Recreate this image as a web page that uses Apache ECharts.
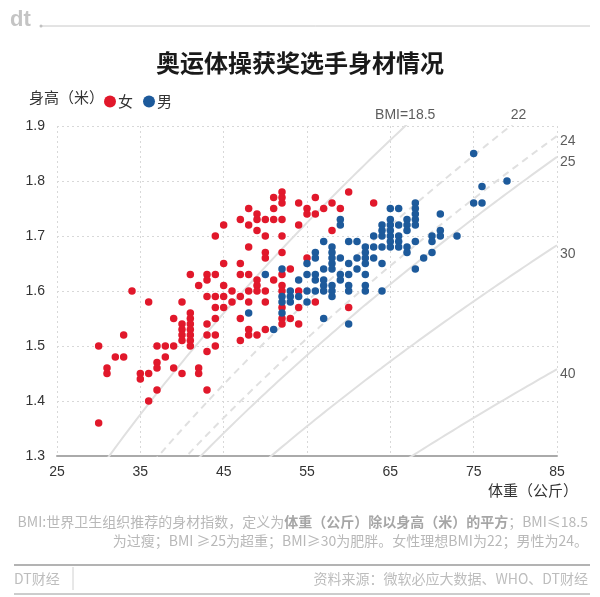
<!DOCTYPE html>
<html><head><meta charset="utf-8">
<script src="https://cdn.jsdelivr.net/npm/echarts@6/dist/echarts.min.js"></script>
<style>html,body{margin:0;padding:0;background:#fff}#c{width:600px;height:597px}</style>
</head><body><div id="c"></div>
<script>
// ---- data (weight kg, height m) ----
const female = [
 [52,1.78],[60,1.78],
 [51,1.77],[52,1.77],[56,1.77],
 [52,1.76],[54,1.76],[58,1.76],[63,1.76],
 [48,1.75],[51,1.75],[55,1.75],[57,1.75],[59,1.75],
 [49,1.74],[55,1.74],[56,1.74],
 [47,1.73],[49,1.73],[50,1.73],[51,1.73],[52,1.73],
 [45,1.72],[48,1.72],[54,1.72],
 [49,1.71],[58,1.71],
 [44,1.70],[50,1.70],[52,1.70],
 [48,1.68],
 [50,1.67],[52,1.67],
 [50,1.66],[55,1.66],
 [45,1.65],[47,1.65],
 [53,1.64],
 [41,1.63],[43,1.63],[44,1.63],[47,1.63],[48,1.63],[52,1.63],
 [43,1.62],[49,1.62],[51,1.62],
 [42,1.61],[45,1.61],[49,1.61],[52,1.61],
 [34,1.60],[46,1.60],[48,1.60],[49,1.60],[50,1.60],[52,1.60],[54,1.60],
 [43,1.59],[44,1.59],[45,1.59],[47,1.59],
 [36,1.58],[40,1.58],[46,1.58],[48,1.58],[50,1.58],[56,1.58],
 [44,1.57],[45,1.57],[52,1.57],[54,1.57],[60,1.57],
 [41,1.56],
 [39,1.55],[41,1.55],[44,1.55],[47,1.55],[52,1.55],[53,1.55],
 [40,1.54],[41,1.54],[43,1.54],[52,1.54],[54,1.54],
 [40,1.53],[41,1.53],[48,1.53],[50,1.53],
 [33,1.52],[40,1.52],[41,1.52],[43,1.52],[44,1.52],[48,1.52],[49,1.52],
 [40,1.51],[41,1.51],[47,1.51],
 [30,1.50],[37,1.50],[38,1.50],[39,1.50],[41,1.50],[44,1.50],
 [43,1.49],
 [32,1.48],[33,1.48],[38,1.48],
 [37,1.47],
 [31,1.46],[37,1.46],[39,1.46],[42,1.46],
 [31,1.45],[35,1.45],[36,1.45],[40,1.45],[42,1.45],
 [35,1.44],
 [37,1.42],[43,1.42],
 [36,1.40],
 [30,1.36]
];
const male = [
 [75,1.85],
 [79,1.80],
 [76,1.79],
 [68,1.76],[75,1.76],[76,1.76],
 [65,1.75],[66,1.75],[68,1.75],
 [68,1.74],[71,1.74],
 [59,1.73],[65,1.73],[67,1.73],[68,1.73],
 [59,1.72],[64,1.72],[65,1.72],[66,1.72],[67,1.72],[68,1.72],
 [64,1.71],[65,1.71],[67,1.71],[71,1.71],
 [63,1.70],[64,1.70],[65,1.70],[66,1.70],[70,1.70],[71,1.70],[73,1.70],
 [57,1.69],[60,1.69],[61,1.69],[65,1.69],[66,1.69],[68,1.69],[70,1.69],
 [58,1.68],[62,1.68],[63,1.68],[64,1.68],[65,1.68],[66,1.68],[67,1.68],
 [56,1.67],[58,1.67],[62,1.67],[67,1.67],[70,1.67],
 [56,1.66],[58,1.66],[59,1.66],[61,1.66],[62,1.66],[63,1.66],[69,1.66],
 [55,1.65],[58,1.65],[60,1.65],[62,1.65],[64,1.65],
 [52,1.64],[57,1.64],[58,1.64],[61,1.64],[68,1.64],
 [50,1.63],[55,1.63],[56,1.63],[59,1.63],[60,1.63],[62,1.63],
 [54,1.62],[56,1.62],[57,1.62],[59,1.62],
 [57,1.61],[58,1.61],[60,1.61],[62,1.61],
 [53,1.60],[55,1.60],[56,1.60],[57,1.60],[58,1.60],[60,1.60],[62,1.60],[64,1.60],
 [52,1.59],[53,1.59],[54,1.59],[58,1.59],
 [52,1.58],[53,1.58],[55,1.58],
 [48,1.56],[52,1.56],
 [57,1.55],
 [60,1.54],
 [51,1.53]
];
const bmiLevels = [18.5, 22, 24, 25, 30, 40];
const bmiDashed = [22, 24];
const bmiTopLabels = ['BMI=18.5', '22'];
const bmiRightLabels = ['24', '25', '30', '40'];
const xTicks = [25, 35, 45, 55, 65, 75, 85];
const yTicks = [1.3, 1.4, 1.5, 1.6, 1.7, 1.8, 1.9];

const RED = '#e1182b', BLUE = '#1d5a9b';
const FONT = "'Liberation Sans','Noto Sans CJK SC',sans-serif";
const CJK = "'Noto Sans CJK SC','Liberation Sans',sans-serif";

const xMin = xTicks[0], xMax = xTicks[xTicks.length-1];
const yMin = yTicks[0], yMax = yTicks[yTicks.length-1];

// BMI reference curves: height = sqrt(weight / BMI)
const bmiSeries = bmiLevels.map(b => {
  const pts = [];
  for (let w = xMin; w <= xMax; w += 0.5) pts.push([w, Math.sqrt(w / b)]);
  return {
    type: 'line', data: pts, symbol: 'none', silent: true, z: 1,
    lineStyle: {color: '#e0e0e0', width: 2, type: bmiDashed.includes(b) ? [7, 5] : 'solid'}
  };
});

// label anchors
const labelData = [];
bmiLevels.slice(0, 2).forEach((b, i) => {
  labelData.push({value: [yMax * yMax * b, yMax], label: {show: true, position: 'top', distance: 4, offset: [i === 1 ? 8 : 0, 0], formatter: bmiTopLabels[i]}});
});
bmiLevels.slice(2).forEach((b, i) => {
  labelData.push({value: [xMax, Math.sqrt(xMax / b)], label: {show: true, position: 'right', distance: 3, offset: [0, i === 2 ? 9 : 5], formatter: bmiRightLabels[i]}});
});

const chart = echarts.init(document.getElementById('c'), null, {renderer: 'canvas'});
chart.setOption({
  animation: false,
  textStyle: {fontFamily: FONT},
  grid: {left: 57, right: 43, top: 126, bottom: 141, containLabel: false},
  legend: {
    data: ['女', '男'], left: 99, top: 89, icon: 'circle', itemWidth: 12, itemHeight: 12, itemGap: 10,
    textStyle: {fontSize: 15, color: '#333', fontFamily: CJK, padding: [0, 0, 0, -3]}
  },
  xAxis: {
    type: 'value', min: xMin, max: xMax, interval: 10,
    axisLine: {show: true, lineStyle: {color: '#aaa', width: 2}},
    axisTick: {show: false},
    axisLabel: {color: '#333', fontSize: 14, margin: 9},
    splitLine: {show: true, lineStyle: {color: '#d8d8d8', type: [2, 3], width: 1}}
  },
  yAxis: {
    type: 'value', min: yMin, max: yMax, interval: 0.1,
    axisLine: {show: false}, axisTick: {show: false},
    axisLabel: {color: '#333', fontSize: 14, margin: 12, formatter: v => v.toFixed(1)},
    splitLine: {show: true, lineStyle: {color: '#d8d8d8', type: [2, 3], width: 1}}
  },
  series: [
    ...bmiSeries,
    {name: '女', type: 'scatter', data: female, symbolSize: 7.5, itemStyle: {color: RED, opacity: 1}, z: 3},
    {name: '男', type: 'scatter', data: male, symbolSize: 7.5, itemStyle: {color: BLUE, opacity: 1}, z: 4},
    {type: 'scatter', data: labelData, symbolSize: 0, silent: true, clip: false, z: 5,
     label: {color: '#333', fontSize: 14, fontFamily: FONT}}
  ],
  graphic: [
    {type: 'text', left: 10, top: 9, style: {text: 'dt', font: 'bold 22px ' + FONT, fill: '#c4c4c4'}},
    {type: 'line', shape: {x1: 41, y1: 26, x2: 590, y2: 26}, style: {stroke: '#c8c8c8', lineWidth: 1}},
    {type: 'circle', shape: {cx: 41, cy: 26, r: 1.5}, style: {fill: '#c0c0c0'}},
    {type: 'text', x: 300, y: 63, style: {text: '奥运体操获奖选手身材情况', font: 'bold 24px ' + CJK, fill: '#1a1a1a', textAlign: 'center', textVerticalAlign: 'middle'}},
    {type: 'text', x: 29, y: 97, style: {text: '身高（米）', font: '15px ' + CJK, fill: '#333', textVerticalAlign: 'middle'}},
    {type: 'text', x: 578, y: 490, style: {text: '体重（公斤）', font: '15px ' + CJK, fill: '#333', textAlign: 'right', textVerticalAlign: 'middle'}},
    {type: 'text', x: 588, y: 522, style: {
      text: '{n|BMI:世界卫生组织推荐的身材指数，定义为}{b|体重（公斤）除以身高（米）的平方}{n|；BMI≤18.5}',
      align: 'right', verticalAlign: 'middle', textAlign: 'right', textVerticalAlign: 'middle',
      rich: {
        n: {fontSize: 14, fontFamily: CJK, fill: '#b8b8b8', color: '#b8b8b8'},
        b: {fontSize: 14, fontFamily: CJK, fontWeight: 'bold', fill: '#a6a6a6', color: '#a6a6a6'}
      }
    }},
    {type: 'text', x: 588, y: 541, style: {text: '为过瘦；BMI ≥25为超重；BMI≥30为肥胖。女性理想BMI为22；男性为24。', font: '14px ' + CJK, fill: '#b8b8b8', textAlign: 'right', textVerticalAlign: 'middle'}},
    {type: 'line', shape: {x1: 14, y1: 565, x2: 590, y2: 565}, style: {stroke: '#9a9a9a', lineWidth: 1.5}},
    {type: 'text', x: 14, y: 579, style: {text: 'DT财经', font: '14px ' + CJK, fill: '#bdbdbd', textVerticalAlign: 'middle'}},
    {type: 'line', shape: {x1: 73, y1: 567, x2: 73, y2: 590}, style: {stroke: '#d0d0d0', lineWidth: 1}},
    {type: 'text', x: 588, y: 579, style: {text: '资料来源：微软必应大数据、WHO、DT财经', font: '14px ' + CJK, fill: '#bdbdbd', textAlign: 'right', textVerticalAlign: 'middle'}},
    {type: 'line', shape: {x1: 14, y1: 594, x2: 590, y2: 594}, style: {stroke: '#9a9a9a', lineWidth: 1}}
  ]
});
</script></body></html>
